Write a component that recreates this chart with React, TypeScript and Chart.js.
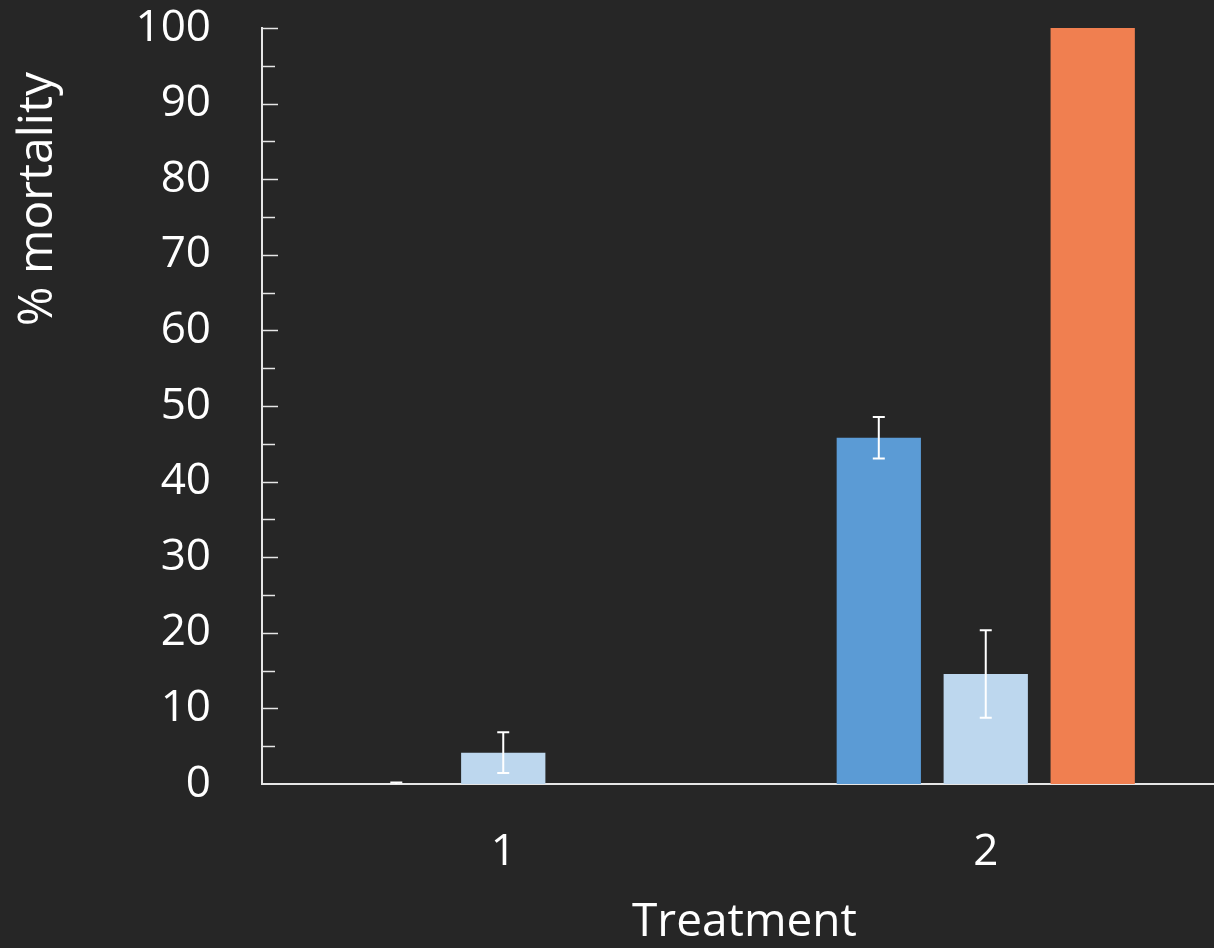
import React, { useEffect, useRef } from "react";
import { Chart, registerables } from "chart.js";

Chart.register(...registerables);

const categories = ["1", "2"];
const seriesA = [0, 45.8];
const seriesB = [4.15, 14.55];
const seriesC = [0, 100];
const errA = [0.2, 2.75];
const errB = [2.7, 5.8];
const errC = [0, 0];
const yTicks = [0, 10, 20, 30, 40, 50, 60, 70, 80, 90, 100];
const yTitle = "% mortality";
const xTitle = "Treatment";

const FONT = "'Open Sans', 'DejaVu Sans', sans-serif";

export default function App() {
  const ref = useRef<HTMLCanvasElement | null>(null);

  useEffect(() => {
    if (!ref.current) return;
    const errors = [errA, errB, errC];

    const errorBars = {
      id: "errorBars",
      afterDatasetsDraw(chart: any) {
        const ctx = chart.ctx;
        const y = chart.scales.y;
        ctx.save();
        ctx.strokeStyle = "#ffffff";
        ctx.lineWidth = 2;
        chart.data.datasets.forEach((ds: any, di: number) => {
          const meta = chart.getDatasetMeta(di);
          meta.data.forEach((bar: any, i: number) => {
            const e = errors[di][i];
            if (!e) return;
            const v = ds.data[i];
            const x = bar.x;
            const yt = y.getPixelForValue(v + e);
            const yb = y.getPixelForValue(Math.max(0, v - e));
            ctx.beginPath();
            ctx.moveTo(x, yt);
            ctx.lineTo(x, yb);
            ctx.moveTo(x - 6, yt);
            ctx.lineTo(x + 6, yt);
            if (v - e >= 0) {
              ctx.moveTo(x - 6, yb);
              ctx.lineTo(x + 6, yb);
            }
            ctx.stroke();
          });
        });
        ctx.restore();
      },
    };

    const innerTicks = {
      id: "innerTicks",
      afterDraw(chart: any) {
        const ctx = chart.ctx;
        const y = chart.scales.y;
        const left = chart.chartArea.left;
        ctx.save();
        ctx.strokeStyle = "#e6e6e6";
        ctx.lineWidth = 1.5;
        for (let v = 5; v <= 100; v += 5) {
          const py = Math.round(y.getPixelForValue(v)) + 0.5;
          const len = v % 10 === 0 ? 16 : 13;
          ctx.beginPath();
          ctx.moveTo(left, py);
          ctx.lineTo(left + len, py);
          ctx.stroke();
        }
        // y title
        ctx.translate(52, 199);
        ctx.rotate(-Math.PI / 2);
        ctx.fillStyle = "#ffffff";
        ctx.font = `48px ${FONT}`;
        ctx.textAlign = "center";
        ctx.textBaseline = "alphabetic";
        ctx.fillText(yTitle, 0, 0);
        ctx.restore();
      },
    };

    const chart = new Chart(ref.current, {
      type: "bar",
      data: {
        labels: categories,
        datasets: [
          { label: "A", data: seriesA, backgroundColor: "#5B9BD5", borderWidth: 0 },
          { label: "B", data: seriesB, backgroundColor: "#BDD7EE", borderWidth: 0 },
          { label: "C", data: seriesC, backgroundColor: "#F07F50", borderWidth: 0 },
        ],
      },
      options: {
        responsive: false,
        animation: false,
        devicePixelRatio: 1,
        layout: { padding: { left: 0, right: 13, top: 28, bottom: 0 } },
        datasets: { bar: { categoryPercentage: 0.665, barPercentage: 0.788 } },
        plugins: { legend: { display: false }, tooltip: { enabled: false } },
        scales: {
          x: {
            offset: true,
            grid: { display: false, drawTicks: false },
            border: { display: true, color: "#e6e6e6", width: 2 },
            ticks: { color: "#ffffff", font: { family: FONT, size: 44 }, padding: 42 },
            title: {
              display: true,
              text: xTitle,
              color: "#ffffff",
              font: { family: FONT, size: 46, lineHeight: 1.1 },
              padding: { top: 0, bottom: 0 },
            },
            afterFit: (s: any) => {
              s.height = 164;
              s.paddingLeft = 0;
              s.paddingRight = 0;
              s.paddingTop = 0;
              s.paddingBottom = 0;
            },
          },
          y: {
            min: 0,
            max: 100,
            afterBuildTicks: (s: any) => {
              s.ticks = yTicks.map((v) => ({ value: v }));
            },
            grid: { display: false, drawTicks: false },
            border: { display: true, color: "#e6e6e6", width: 2 },
            ticks: { color: "#ffffff", font: { family: FONT, size: 44 }, padding: 51 },
            afterFit: (s: any) => {
              s.width = 262;
              s.paddingTop = 0;
              s.paddingBottom = 0;
              s.paddingLeft = 0;
              s.paddingRight = 0;
            },
          },
        },
      },
      plugins: [errorBars, innerTicks],
    });
    return () => chart.destroy();
  }, []);

  return (
    <div
      style={{
        position: "fixed",
        left: 0,
        top: 0,
        width: "100vw",
        height: "100vh",
        overflow: "hidden",
        background: "#262626",
      }}
    >
      <canvas ref={ref} width={1240} height={948} style={{ display: "block", width: 1240, height: 948 }} />
    </div>
  );
}
